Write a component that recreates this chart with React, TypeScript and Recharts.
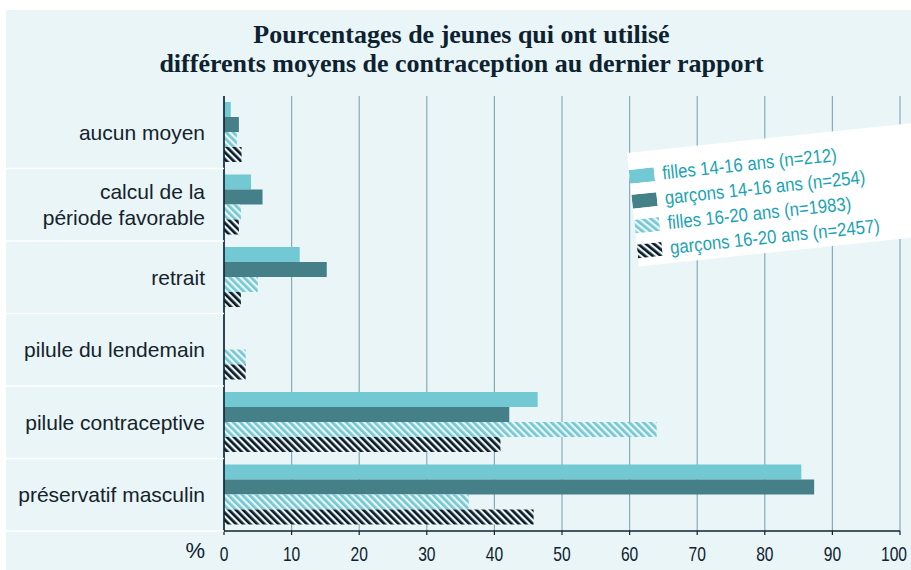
import React from "react";
import {
  BarChart,
  Bar,
  XAxis,
  YAxis,
  CartesianGrid,
  Legend,
  Label,
} from "recharts";

// valeurs (en %)
const categories = [
  "aucun moyen",
  "calcul de la\npériode favorable",
  "retrait",
  "pilule du lendemain",
  "pilule contraceptive",
  "préservatif masculin",
];
const filles1416 = [1.0, 4.0, 11.2, null, 46.4, 85.4];
const garcons1416 = [2.2, 5.7, 15.2, null, 42.2, 87.3];
const filles1620 = [1.9, 2.5, 5.0, 3.2, 64.0, 36.2];
const garcons1620 = [2.6, 2.2, 2.5, 3.2, 40.9, 45.8];
const xTicks = [0, 10, 20, 30, 40, 50, 60, 70, 80, 90, 100];

const seriesNames = [
  "filles 14-16 ans (n=212)",
  "garçons 14-16 ans (n=254)",
  "filles 16-20 ans (n=1983)",
  "garçons 16-20 ans (n=2457)",
];

const data = categories.map((name, i) => ({
  name,
  f1416: filles1416[i],
  g1416: garcons1416[i],
  f1620: filles1620[i],
  g1620: garcons1620[i],
}));

const W = 911;
const H = 570;
const PLOT_TOP = 96;
const PLOT_BOTTOM = 531;
const AXIS_X = 224;
const BAND = (PLOT_BOTTOM - PLOT_TOP) / categories.length;

const BG = "#eaf5f7";
const LIGHT = "#72c8d3";
const DARK = "#457f87";
const INK = "#0d2230";
const LEGEND_TEXT = "#1ba3b5";
const SANS = "'Liberation Sans', Arial, sans-serif";

const Hatch = ({ id, color }: { id: string; color: string }) => (
  <pattern id={id} patternUnits="userSpaceOnUse" width={5} height={5} patternTransform="rotate(-45)">
    <rect x={0} y={0} width={5} height={5} fill={BG} />
    <rect x={0} y={0} width={2.7} height={5} fill={color} />
  </pattern>
);

const CategoryTick = (props: any) => {
  const { y, payload } = props;
  const lines = String(payload.value).split("\n");
  const lh = 26;
  const y0 = y - ((lines.length - 1) * lh) / 2;
  return (
    <g>
      <line x1={6} x2={AXIS_X} y1={y + BAND / 2} y2={y + BAND / 2} stroke="#ffffff" strokeWidth={1.5} />
      <text x={AXIS_X - 19} y={y0} textAnchor="end" fill="#14232c" fontFamily={SANS} fontSize={21}>
        {lines.map((l, i) => (
          <tspan key={i} x={AXIS_X - 19} y={y0 + i * lh} dy="0.36em">
            {l}
          </tspan>
        ))}
      </text>
    </g>
  );
};

// chiffres étroits comme dans l'original
const PercentTick = (props: any) => {
  const { x, y, payload, index } = props;
  const shift = index === xTicks.length - 1 ? -6 : 0;
  return (
    <text
      x={0}
      y={0}
      dy="0.71em"
      textAnchor="middle"
      fill={INK}
      fontFamily={SANS}
      fontSize={20}
      transform={`translate(${x + shift},${y}) scale(0.78,1)`}
    >
      {payload.value}
    </text>
  );
};

const Swatch = ({ index }: { index: number }) => {
  const id = "lg-hatch-" + index;
  const fill = index === 0 ? LIGHT : index === 1 ? DARK : "url(#" + id + ")";
  return (
    <svg width={25} height={14} style={{ display: "block", flex: "none" }}>
      <defs>
        {index === 2 && <Hatch id={id} color={LIGHT} />}
        {index === 3 && <Hatch id={id} color="#0b1a24" />}
      </defs>
      <rect x={0} y={0} width={25} height={14} fill={fill} />
    </svg>
  );
};

const LegendBox = () => (
  <div
    style={{
      width: 310,
      height: 114,
      background: "#ffffff",
      transform: "rotate(-6deg)",
      transformOrigin: "0 0",
      paddingTop: 11,
      boxSizing: "border-box",
    }}
  >
    {seriesNames.map((n, i) => (
      <div key={n} style={{ display: "flex", alignItems: "center", height: 25, paddingLeft: 0 }}>
        <Swatch index={i} />
        <span
          style={{
            display: "inline-block",
            marginLeft: 8,
            fontFamily: SANS,
            fontSize: 19,
            color: LEGEND_TEXT,
            whiteSpace: "nowrap",
            lineHeight: "25px",
            transform: "scaleX(0.88)",
            transformOrigin: "0 50%",
          }}
        >
          {n}
        </span>
      </div>
    ))}
  </div>
);

export default function App() {
  return (
    <div style={{ position: "absolute", left: 0, top: 0, width: W, height: H, background: "#ffffff", overflow: "hidden" }}>
      <div style={{ position: "absolute", left: 6, top: 10, width: W - 6, height: H - 10, background: BG }} />
      <div
        style={{
          position: "absolute",
          left: 6,
          top: 20,
          width: W,
          textAlign: "center",
          fontFamily: "'Liberation Serif', 'Times New Roman', serif",
          fontWeight: "bold",
          fontSize: 26,
          lineHeight: "29px",
          color: INK,
        }}
      >
        <div>Pourcentages de jeunes qui ont utilisé</div>
        <div>différents moyens de contraception au dernier rapport</div>
      </div>
      <div style={{ position: "absolute", left: 0, top: 0 }}>
        <BarChart
          width={W}
          height={H}
          data={data}
          layout="vertical"
          margin={{ top: PLOT_TOP, right: 11, bottom: 0, left: 0 }}
          barGap={0}
          barCategoryGap={6}
        >
          <defs>
            <Hatch id="hatch-light" color={LIGHT} />
            <Hatch id="hatch-dark" color="#0b1a24" />
          </defs>
          <CartesianGrid horizontal={false} vertical stroke="#86adb6" strokeWidth={1.2} />
          <XAxis
            type="number"
            domain={[0, 100]}
            ticks={xTicks}
            interval={0}
            height={H - PLOT_BOTTOM}
            axisLine={{ stroke: INK, strokeWidth: 1.6 }}
            tickLine={{ stroke: INK, strokeWidth: 1.2 }}
            tickSize={4}
            tickMargin={12}
            tick={<PercentTick />}
          >
            <Label value="%" position="left" offset={19} fill={INK} fontSize={22} fontFamily={SANS} />
          </XAxis>
          <YAxis
            type="category"
            dataKey="name"
            width={AXIS_X}
            axisLine={{ stroke: INK, strokeWidth: 1.6 }}
            tickLine={false}
            tick={<CategoryTick />}
            interval={0}
          />
          <Legend
            layout="vertical"
            align="center"
            verticalAlign="middle"
            content={<LegendBox />}
            wrapperStyle={{ left: 627, top: 153, width: 320, height: 140 }}
          />
          <Bar dataKey="f1416" name={seriesNames[0]} fill={LIGHT} barSize={15} isAnimationActive={false} />
          <Bar dataKey="g1416" name={seriesNames[1]} fill={DARK} barSize={15} isAnimationActive={false} />
          <Bar dataKey="f1620" name={seriesNames[2]} fill="url(#hatch-light)" barSize={15} isAnimationActive={false} />
          <Bar dataKey="g1620" name={seriesNames[3]} fill="url(#hatch-dark)" barSize={15} isAnimationActive={false} />
        </BarChart>
      </div>
    </div>
  );
}
